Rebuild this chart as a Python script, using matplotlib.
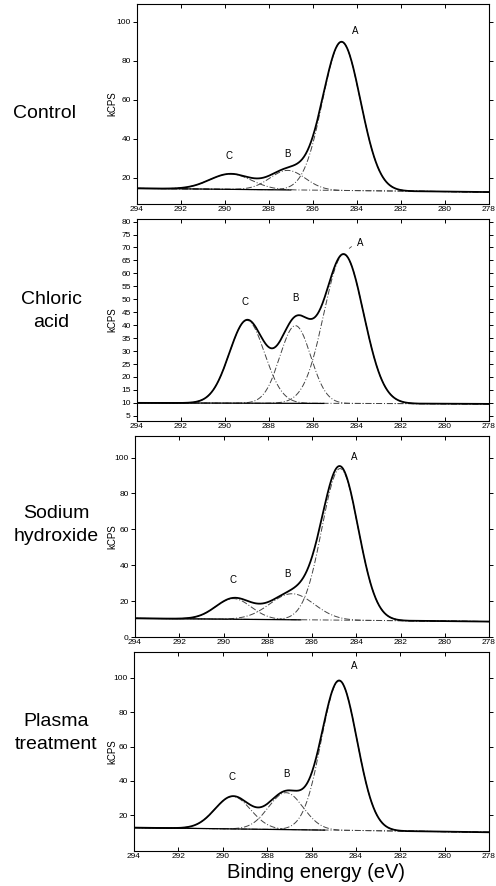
import numpy as np
import matplotlib.pyplot as plt

plt.rcParams['font.family'] = ['Liberation Sans', 'DejaVu Sans']

# panel names (left side labels)
treatments = ['Control', 'Chloric\nacid', 'Sodium\nhydroxide', 'Plasma\ntreatment']

# baseline (kCPS) at 294 eV and at 278 eV
baseline_left = [14.7, 10.0, 10.4, 12.8]
baseline_right = [12.8, 9.6, 8.6, 10.1]

# fitted peak components: A (C-C), B (C-O), C (C=O)
peak_names = ['A', 'B', 'C']
peak_centers = [[284.70, 287.15, 289.75],
                [284.60, 286.80, 289.00],
                [284.73, 286.90, 289.55],
                [284.75, 287.15, 289.55]]
peak_heights = [[76.0, 10.0, 7.9],
                [57.5, 30.0, 32.0],
                [84.5, 14.5, 11.5],
                [87.0, 21.5, 18.9]]
peak_sigmas = [[0.86, 0.80, 0.95],
               [0.90, 0.70, 0.80],
               [0.82, 1.00, 0.80],
               [0.80, 0.78, 0.80]]

# peak letter positions (eV, kCPS)
label_x = [[284.07, 287.18, 289.80],
           [283.87, 286.82, 289.09],
           [284.09, 287.13, 289.55],
           [284.06, 287.13, 289.59]]
label_y = [[95.0, 32.3, 31.3],
           [71.9, 50.5, 48.8],
           [100.4, 34.9, 31.8],
           [106.8, 43.9, 42.0]]

# axis ranges and ticks
y_limits = [(6.7, 109), (3, 81), (0, 112), (-0.8, 115)]
y_ticks = [[20, 40, 60, 80, 100],
           list(range(5, 85, 5)),
           [0, 20, 40, 60, 80, 100],
           [20, 40, 60, 80, 100]]
x_ticks = [294, 292, 290, 288, 286, 284, 282, 280, 278]

# axes boxes in pixels: left, right, top, bottom
W, H = 496, 886
boxes = [(137, 489, 4, 204), (137, 489, 219, 421),
         (135, 489, 436, 637), (134, 489, 652, 851)]
side_label_x = [45, 51, 56, 56]
side_label_y = [113, 311, 525, 733]
ylabel_x = [117, 117, 117, 117]
solid_base_to = [287.0, 285.5, 286.5, 285.4]

fig = plt.figure(figsize=(W / 100, H / 100), dpi=100)
energy = np.linspace(278, 294, 800)

for i in range(4):
    l, r, t, b = boxes[i]
    ax = fig.add_axes([l / W, 1 - b / H, (r - l) / W, (b - t) / H])
    base = baseline_left[i] + (baseline_right[i] - baseline_left[i]) * (294 - energy) / 16
    total = base.copy()
    for c, h, s in zip(peak_centers[i], peak_heights[i], peak_sigmas[i]):
        comp = h * np.exp(-(energy - c) ** 2 / (2 * s ** 2))
        total += comp
        ax.plot(energy, base + comp, color='#444444', lw=0.7, ls=(0, (6, 2, 1, 2)))
    keep = energy >= solid_base_to[i]
    ax.plot(energy[keep], base[keep], color='black', lw=0.9)
    ax.plot(energy, total, color='black', lw=1.3)

    for name, lx, ly in zip(peak_names, label_x[i], label_y[i]):
        ax.text(lx, ly, name, fontsize=7, ha='center', va='center')
    if i == 1:
        # little leader mark in front of the A label
        ax.annotate('', xy=(284.45, 69.0), xytext=(284.15, 71.0),
                    arrowprops=dict(arrowstyle='-', lw=0.6, color='#444444'))

    ax.set_xlim(294, 278)
    ax.set_ylim(*y_limits[i])
    ax.set_xticks(x_ticks)
    ax.set_yticks(y_ticks[i])
    ax.tick_params(axis='both', labelsize=6, length=3, width=0.7, pad=1.5)
    ax.tick_params(axis='y', direction='out')
    ax.tick_params(axis='x', direction='in', top=True)
    ax.tick_params(axis='y', which='both', right=True)
    for sp in ax.spines.values():
        sp.set_linewidth(0.8)
    ax.set_ylabel('kCPS', fontsize=7, labelpad=1)
    ax.yaxis.set_label_coords((ylabel_x[i] - l) / (r - l), 0.5)

    fig.text(side_label_x[i] / W, 1 - side_label_y[i] / H, treatments[i], fontsize=14,
             ha='center', va='center', linespacing=1.45)

fig.text(316 / W, 1 - 872 / H, 'Binding energy (eV)', fontsize=14.5,
         ha='center', va='center')

fig.savefig('out.png', dpi=100, facecolor='white')
